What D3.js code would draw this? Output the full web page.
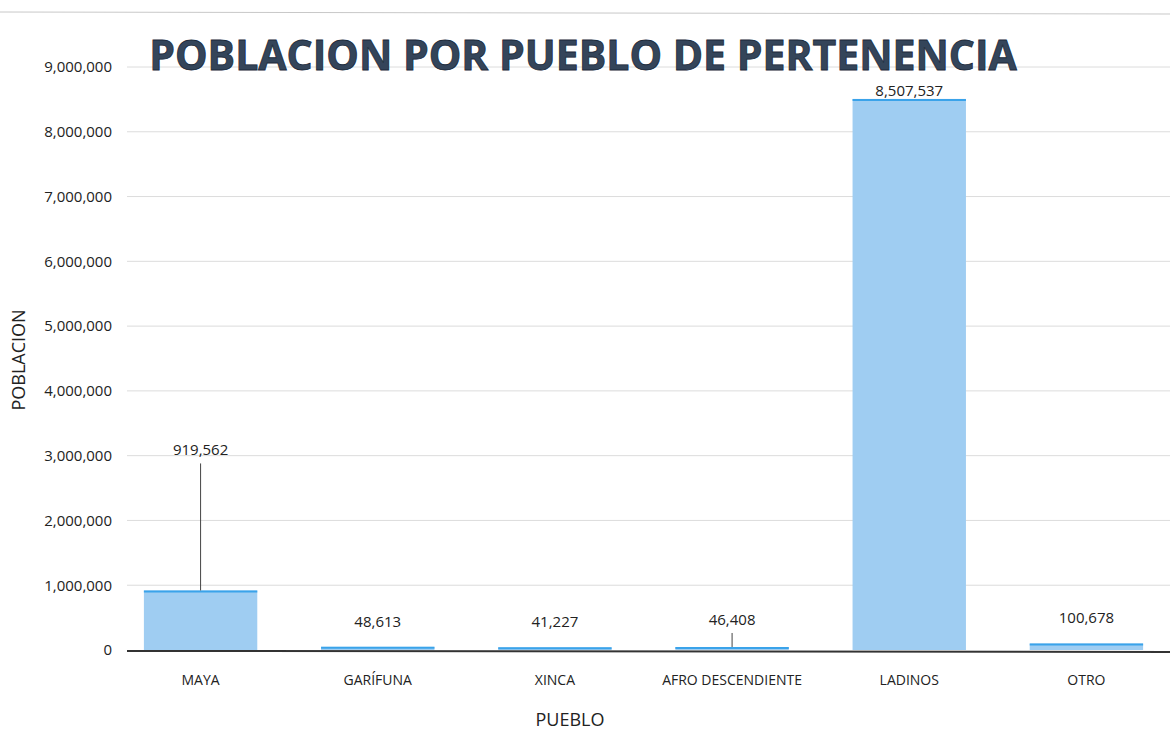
<!DOCTYPE html>
<html>
<head>
<meta charset="utf-8">
<script src="https://cdn.jsdelivr.net/npm/d3@7"></script>
<style>
  body { margin: 0; background: #fff; }
  svg { display: block; font-family: "Open Sans", "DejaVu Sans", sans-serif; }
</style>
</head>
<body>
<div id="chart"></div>
<script>
// data
const pueblos = ["MAYA", "GARÍFUNA", "XINCA", "AFRO DESCENDIENTE", "LADINOS", "OTRO"];
const poblacion = [919562, 48613, 41227, 46408, 8507537, 100678];
const yTicks = [0, 1000000, 2000000, 3000000, 4000000, 5000000, 6000000, 7000000, 8000000, 9000000];

// where the data labels sit above the bar top (px), some use a leader line
const labelLift = { "MAYA": 135, "AFRO DESCENDIENTE": 22, "LADINOS": 3 };

let width = 1170, height = 734;
let margin = { top: 67, right: -5, bottom: 84, left: 112 };

let svg = d3.select("#chart")
    .append("svg")
    .attr("width", width)
    .attr("height", height);

// scales
let x = d3.scaleBand()
    .domain(pueblos)
    .range([margin.left, width - margin.right])
    .paddingInner(0.36)
    .paddingOuter(0.18);

let y = d3.scaleLinear()
    .domain([0, 9000000])
    .range([height - margin.bottom, margin.top]);

// faint edge of the scanned page
svg.append("line")
    .attr("x1", 0).attr("x2", width)
    .attr("y1", 12).attr("y2", 14)
    .attr("stroke", "#c8c8c8").attr("stroke-width", 1);

// grid lines
svg.append("g")
    .selectAll("line")
    .data(yTicks.slice(1))
    .enter()
    .append("line")
    .attr("x1", 127).attr("x2", width)
    .attr("y1", d => y(d)).attr("y2", d => y(d))
    .attr("stroke", "#dcdcdc")
    .attr("stroke-width", 1);

// y axis labels
let yAxis = d3.axisLeft(y)
    .tickValues(yTicks)
    .tickSize(0)
    .tickPadding(0)
    .tickFormat(d3.format(","));

svg.append("g")
    .attr("transform", "translate(" + margin.left + ",0)")
    .call(yAxis)
    .call(g => g.select(".domain").remove())
    .selectAll("text")
    .attr("font-size", 15)
    .attr("fill", "#222")
    .style("font-family", "\"Open Sans\", sans-serif");

// bars
svg.selectAll("allBars")
    .data(pueblos)
    .enter()
    .append("rect")
    .attr("x", d => x(d))
    .attr("width", x.bandwidth())
    .attr("y", (d, i) => y(poblacion[i]))
    .attr("height", (d, i) => y(0) - y(poblacion[i]))
    .attr("fill", "#9fcdf2");

// brighter blue top edge on each bar
svg.selectAll("allTops")
    .data(pueblos)
    .enter()
    .append("line")
    .attr("x1", d => x(d))
    .attr("x2", d => x(d) + x.bandwidth())
    .attr("y1", (d, i) => y(poblacion[i]) + 1)
    .attr("y2", (d, i) => y(poblacion[i]) + 1)
    .attr("stroke", "#3aa3ea")
    .attr("stroke-width", 2);

// x axis baseline
svg.append("line")
    .attr("x1", 127).attr("x2", width)
    .attr("y1", y(0) + 1).attr("y2", y(0) + 2)
    .attr("stroke", "#333")
    .attr("stroke-width", 2);

// leader lines (only where the label was lifted far)
svg.selectAll("allLeaders")
    .data(pueblos.filter(d => labelLift[d] > 15))
    .enter()
    .append("line")
    .attr("x1", d => x(d) + x.bandwidth() / 2)
    .attr("x2", d => x(d) + x.bandwidth() / 2)
    .attr("y1", d => y(poblacion[pueblos.indexOf(d)]))
    .attr("y2", d => y(poblacion[pueblos.indexOf(d)]) - labelLift[d] + 8)
    .attr("stroke", "#444")
    .attr("stroke-width", 1);

// data labels
svg.selectAll("allLabels")
    .data(pueblos)
    .enter()
    .append("text")
    .text((d, i) => d3.format(",")(poblacion[i]))
    .attr("x", d => x(d) + x.bandwidth() / 2)
    .attr("y", (d, i) => y(poblacion[i]) - (labelLift[d] || 20))
    .attr("text-anchor", "middle")
    .attr("font-size", 15)
    .attr("fill", "#222");

// category labels
svg.selectAll("allCats")
    .data(pueblos)
    .enter()
    .append("text")
    .text(d => d)
    .attr("x", d => x(d) + x.bandwidth() / 2)
    .attr("y", y(0) + 35)
    .attr("text-anchor", "middle")
    .attr("font-size", 14)
    .attr("fill", "#222");

// axis titles
svg.append("text")
    .text("PUEBLO")
    .attr("x", 570)
    .attr("y", 726)
    .attr("text-anchor", "middle")
    .attr("font-size", 18)
    .attr("fill", "#222");

svg.append("text")
    .text("POBLACION")
    .attr("transform", "translate(25,360) rotate(-90)")
    .attr("text-anchor", "middle")
    .attr("font-size", 18)
    .attr("fill", "#222");

// chart title
svg.append("text")
    .text("POBLACION POR PUEBLO DE PERTENENCIA")
    .attr("x", 583)
    .attr("y", 70)
    .attr("text-anchor", "middle")
    .attr("font-size", 41)
    .attr("font-weight", "bold")
    .attr("fill", "#34455a")
    .attr("stroke", "#1c2a3a")
    .attr("stroke-width", 0.8);
</script>
</body>
</html>
